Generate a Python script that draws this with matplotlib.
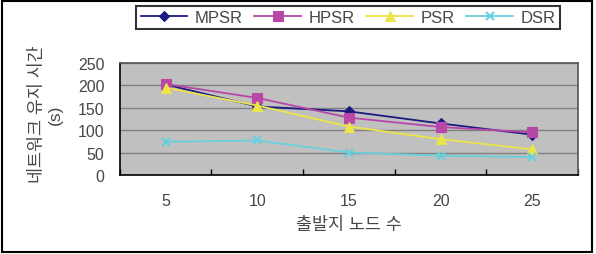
import numpy as np
from matplotlib import pyplot as plt
from matplotlib.patches import Rectangle

plt.rcParams['font.family'] = ['Liberation Sans', 'Noto Sans CJK KR']

# data
sources = ["5", "10", "15", "20", "25"]
mpsr = [202, 153, 142, 115, 90]
hpsr = [203, 172, 128, 107, 95]
psr = [195, 155, 108, 80, 57]
dsr = [74, 77, 50, 43, 40]
yticks = [0, 50, 100, 150, 200, 250]

series = [
    ("MPSR", mpsr, "#1a1a80", "D", 5.5),
    ("HPSR", hpsr, "#b848a8", "s", 6.5),
    ("PSR", psr, "#ece44a", "^", 7),
    ("DSR", dsr, "#66d0dc", "x", 6),
]
text_color = "#474747"

fig = plt.figure(figsize=(5.96, 2.55), dpi=100)
ax = fig.add_axes([0.201, 0.310, 0.769, 0.439])
ax.set_facecolor("#c0c0c0")

x = np.arange(len(sources))
for name, vals, color, marker, ms in series:
    ax.plot(x, vals, color=color, marker=marker, markersize=ms, linewidth=1.3,
            markeredgewidth=1.5 if marker == "x" else 0.8, label=name)

ax.set_xlim(-0.5, len(sources) - 0.5)
ax.set_ylim(0, 250)
ax.set_yticks(yticks)
ax.set_yticklabels([str(v) for v in yticks], fontsize=11.5, color=text_color)
ax.tick_params(axis="y", length=0, pad=11)
ax.yaxis.grid(True, color="#808080", linewidth=1)
ax.set_axisbelow(True)

ax.set_xticks(x)
ax.set_xticklabels(sources, fontsize=11.5, color=text_color)
ax.tick_params(axis="x", which="major", length=0, pad=13)
ax.set_xticks(np.arange(-0.5, len(sources)), minor=True)
ax.tick_params(axis="x", which="minor", length=4, direction="in", width=1)

for s in ["left", "bottom"]:
    ax.spines[s].set_color("black")
    ax.spines[s].set_linewidth(1.2)
for s in ["top", "right"]:
    ax.spines[s].set_color("#555555")
    ax.spines[s].set_linewidth(1.2)

ax.set_xlabel("출발지 노드 수", fontsize=12.5, color=text_color, labelpad=6)
ax.set_ylabel("네트워크 유지 시간\n(s)", fontsize=12.5, color=text_color,
              linespacing=1.25)
ax.yaxis.set_label_coords(-0.125, 0.55)

leg = fig.legend(loc="center", bbox_to_anchor=(0.584, 0.927), ncol=4, frameon=True,
                 fancybox=False, fontsize=12, handlelength=2.8, handletextpad=0.45,
                 columnspacing=0.7, borderpad=0.25)
leg.get_frame().set_edgecolor("black")
leg.get_frame().set_linewidth(1.5)
for t in leg.get_texts():
    t.set_color(text_color)

# outer frame around the whole chart
fig.patches.append(Rectangle((0.004, 0.006), 0.990, 0.988, transform=fig.transFigure,
                             fill=False, edgecolor="black", linewidth=1.5))

fig.savefig("out.png", dpi=100)
